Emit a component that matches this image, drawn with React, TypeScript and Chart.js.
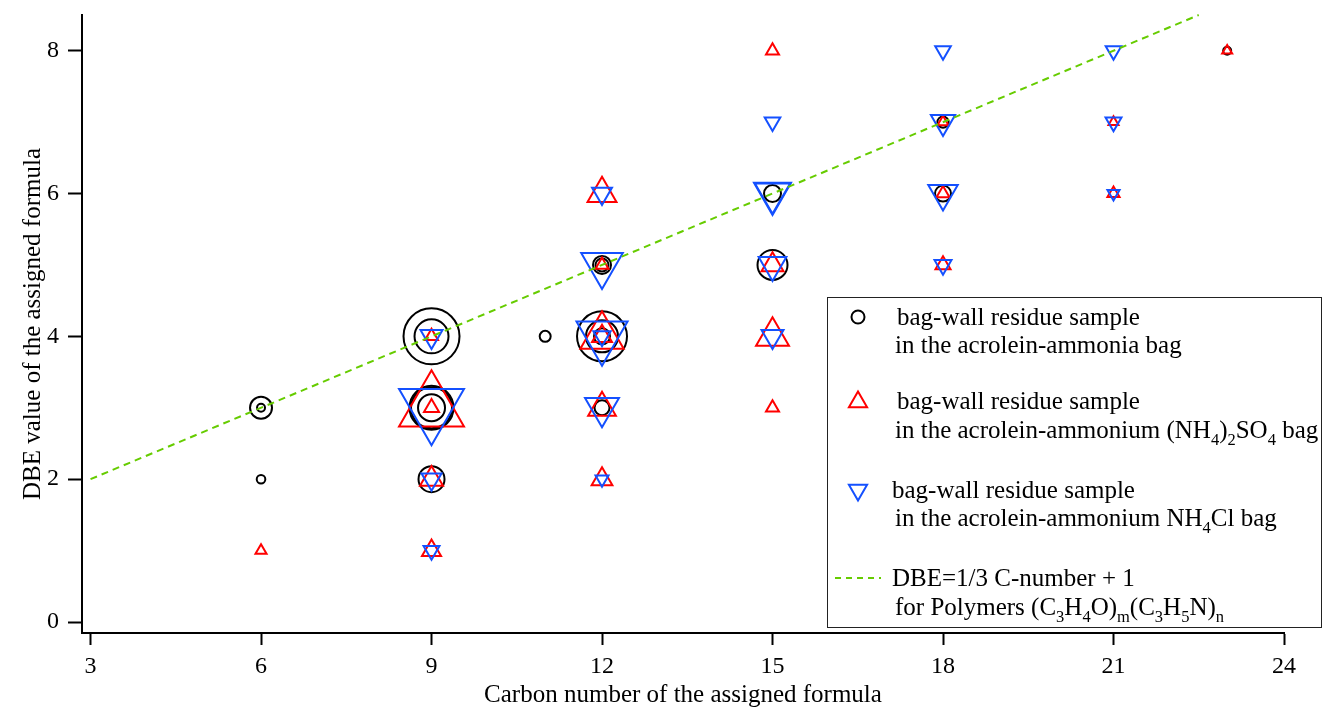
import React, { useEffect, useRef } from 'react';
import { Chart, registerables } from 'chart.js';

Chart.register(...registerables);

const FONT = '"Liberation Serif", "Times New Roman", serif';

const xTicks = [3, 6, 9, 12, 15, 18, 21, 24];
const yTicks = [0, 2, 4, 6, 8];

// bag-wall residue sample in the acrolein-ammonia bag (black circles)
const ammoniaC = [6, 6, 6, 9, 9, 9, 9, 9, 9, 11, 12, 12, 12, 12, 12, 12, 15, 15, 18, 18, 23];
const ammoniaDBE = [3, 3, 2, 4, 4, 3, 3, 3, 2, 4, 5, 5, 4, 4, 4, 3, 6, 5, 7, 6, 8];
const ammoniaSize = [11, 4, 4.3, 28, 17, 22, 20.5, 13.5, 13, 5.5, 9, 6.5, 25, 16, 8, 7.5, 8.5, 15, 5.6, 8, 4];

// bag-wall residue sample in the acrolein-ammonium (NH4)2SO4 bag (red up triangles)
const sulfateC = [6, 9, 9, 9, 9, 9, 12, 12, 12, 12, 12, 12, 15, 15, 15, 15, 18, 18, 18, 21, 21, 23];
const sulfateDBE = [1, 4, 3, 3, 2, 1, 6, 5, 4, 4, 3, 2, 8, 5, 4, 3, 7, 6, 5, 7, 6, 8];
const sulfateSize = [6.4, 7.5, 37.5, 8.7, 13.3, 11, 16.7, 7.5, 25, 11.5, 16, 12, 7.5, 12.7, 19, 7.5, 6.4, 7.5, 8.7, 5.8, 7, 5.8];

// bag-wall residue sample in the acrolein-ammonium NH4Cl bag (blue down triangles)
const chlorideC = [9, 9, 9, 9, 12, 12, 12, 12, 12, 12, 15, 15, 15, 15, 15, 18, 18, 18, 18, 21, 21, 21];
const chlorideDBE = [4, 3, 2, 1, 6, 5, 4, 4, 3, 2, 7, 6, 6, 5, 4, 8, 7, 6, 5, 8, 7, 6];
const chlorideSize = [12.7, 37.5, 11.5, 9.2, 11.5, 24, 29.5, 10, 19.6, 7.5, 9, 21.4, 20.3, 16, 12.7, 9, 14, 17, 9.8, 9, 9.2, 7];

// DBE = 1/3 C-number + 1
const lineC = [3, 22.5];
const lineDBE = [2, 8.5];

const BLACK = '#000000';
const RED = '#ff0000';
const BLUE = '#1450ff';
const GREEN = '#66cc00';

const zip = (xs: number[], ys: number[]) => xs.map((x, i) => ({ x, y: ys[i] }));

type Part = [string, boolean];

function drawRich(ctx: CanvasRenderingContext2D, parts: Part[], x: number, y: number, size: number) {
  let cx = x;
  for (const [t, sub] of parts) {
    const s = sub ? size * 0.66 : size;
    ctx.font = `${s}px ${FONT}`;
    ctx.fillText(t, cx, sub ? y + size * 0.26 : y);
    cx += ctx.measureText(t).width;
  }
}

function tri(ctx: CanvasRenderingContext2D, x: number, y: number, r: number, down: boolean) {
  const s = down ? -1 : 1;
  ctx.beginPath();
  ctx.moveTo(x, y - s * r);
  ctx.lineTo(x + r * Math.sin((2 * Math.PI) / 3), y + s * r * 0.5);
  ctx.lineTo(x - r * Math.sin((2 * Math.PI) / 3), y + s * r * 0.5);
  ctx.closePath();
  ctx.stroke();
}

const decorPlugin = {
  id: 'decor',
  afterDraw(chart: any) {
    const ctx: CanvasRenderingContext2D = chart.ctx;
    const area = chart.chartArea;
    ctx.save();
    ctx.fillStyle = '#000';
    ctx.textBaseline = 'alphabetic';

    // axis titles
    ctx.font = `25px ${FONT}`;
    ctx.textAlign = 'center';
    ctx.fillText('Carbon number of the assigned formula', (area.left + area.right) / 2, 702);
    ctx.save();
    ctx.translate(40, (area.top + area.bottom) / 2);
    ctx.rotate(-Math.PI / 2);
    ctx.font = `25px ${FONT}`;
    ctx.fillText('DBE value of the assigned formula', 0, 0);
    ctx.restore();

    // legend box
    ctx.textAlign = 'left';
    ctx.strokeStyle = '#222';
    ctx.lineWidth = 1;
    ctx.strokeRect(827.5, 297.5, 494, 330);

    // legend symbols
    ctx.lineWidth = 2;
    ctx.strokeStyle = BLACK;
    ctx.beginPath();
    ctx.arc(858, 317, 6.5, 0, Math.PI * 2);
    ctx.stroke();
    ctx.strokeStyle = RED;
    tri(ctx, 858, 402, 10.5, false);
    ctx.strokeStyle = BLUE;
    tri(ctx, 858, 490, 10.5, true);
    ctx.strokeStyle = GREEN;
    ctx.setLineDash([6, 5]);
    ctx.beginPath();
    ctx.moveTo(835, 578);
    ctx.lineTo(881, 578);
    ctx.stroke();
    ctx.setLineDash([]);

    // legend texts
    const fs = 25;
    ctx.fillStyle = '#000';
    drawRich(ctx, [['bag-wall residue sample', false]], 897, 325, fs);
    drawRich(ctx, [['in the acrolein-ammonia bag', false]], 895, 353, fs);
    drawRich(ctx, [['bag-wall residue sample', false]], 897, 409, fs);
    drawRich(
      ctx,
      [
        ['in the acrolein-ammonium (NH', false],
        ['4', true],
        [')', false],
        ['2', true],
        ['SO', false],
        ['4', true],
        [' bag', false],
      ],
      895,
      438,
      fs
    );
    drawRich(ctx, [['bag-wall residue sample', false]], 892, 498, fs);
    drawRich(
      ctx,
      [
        ['in the acrolein-ammonium NH', false],
        ['4', true],
        ['Cl bag', false],
      ],
      895,
      526,
      fs
    );
    drawRich(ctx, [['DBE=1/3 C-number + 1', false]], 892, 586, fs);
    drawRich(
      ctx,
      [
        ['for Polymers (C', false],
        ['3', true],
        ['H', false],
        ['4', true],
        ['O)', false],
        ['m', true],
        ['(C', false],
        ['3', true],
        ['H', false],
        ['5', true],
        ['N)', false],
        ['n', true],
      ],
      895,
      615,
      fs
    );
    ctx.restore();
  },
};

const zeroPad = (s: any) => {
  s.paddingTop = 0;
  s.paddingBottom = 0;
  s.paddingLeft = 0;
  s.paddingRight = 0;
};

export default function App() {
  const ref = useRef<HTMLCanvasElement | null>(null);

  useEffect(() => {
    if (!ref.current) return;
    const common = {
      showLine: false,
      pointBorderWidth: 2,
      pointBackgroundColor: 'rgba(0,0,0,0)',
      backgroundColor: 'rgba(0,0,0,0)',
      pointHoverRadius: 0,
      clip: false as const,
    };
    const chart = new Chart(ref.current, {
      type: 'scatter',
      data: {
        datasets: [
          {
            label: 'DBE=1/3 C-number + 1',
            data: zip(lineC, lineDBE),
            showLine: true,
            borderColor: GREEN,
            borderWidth: 2,
            borderDash: [7, 5],
            pointRadius: 0,
            order: 0,
            clip: false as const,
          },
          {
            ...common,
            label: 'NH4Cl bag',
            data: zip(chlorideC, chlorideDBE),
            pointStyle: 'triangle',
            pointRotation: 180,
            pointRadius: chlorideSize,
            borderColor: BLUE,
            pointBorderColor: BLUE,
            order: 1,
          },
          {
            ...common,
            label: '(NH4)2SO4 bag',
            data: zip(sulfateC, sulfateDBE),
            pointStyle: 'triangle',
            pointRadius: sulfateSize,
            borderColor: RED,
            pointBorderColor: RED,
            order: 2,
          },
          {
            ...common,
            label: 'ammonia bag',
            data: zip(ammoniaC, ammoniaDBE),
            pointStyle: 'circle',
            pointRadius: ammoniaSize,
            borderColor: BLACK,
            pointBorderColor: BLACK,
            order: 3,
          },
        ] as any,
      },
      options: {
        responsive: false,
        devicePixelRatio: 1,
        animation: false,
        events: [],
        layout: { autoPadding: false, padding: { left: 0, right: 39, top: 15, bottom: 0 } },
        plugins: { legend: { display: false }, tooltip: { enabled: false } },
        scales: {
          x: {
            type: 'linear',
            min: 2.85,
            max: 24,
            afterBuildTicks: (s: any) => {
              s.ticks = xTicks.map((v) => ({ value: v }));
            },
            afterFit: (s: any) => {
              s.height = 74;
              zeroPad(s);
            },
            grid: {
              drawOnChartArea: false,
              drawTicks: true,
              tickLength: 12,
              tickWidth: 2,
              tickColor: '#000',
            },
            border: { display: true, color: '#000', width: 2 },
            ticks: {
              color: '#000',
              font: { family: FONT, size: 24 },
              padding: 7,
              maxRotation: 0,
              autoSkip: false,
            },
          },
          y: {
            type: 'linear',
            min: -0.154,
            max: 8.5,
            afterBuildTicks: (s: any) => {
              s.ticks = yTicks.map((v) => ({ value: v }));
            },
            afterFit: (s: any) => {
              s.width = 82;
              zeroPad(s);
            },
            grid: {
              drawOnChartArea: false,
              drawTicks: true,
              tickLength: 14,
              tickWidth: 2,
              tickColor: '#000',
            },
            border: { display: true, color: '#000', width: 2 },
            ticks: {
              color: '#000',
              font: { family: FONT, size: 24 },
              padding: 9,
              autoSkip: false,
            },
          },
        },
      } as any,
      plugins: [decorPlugin],
    });
    return () => chart.destroy();
  }, []);

  return (
    <div style={{ position: 'fixed', left: 0, top: 0, width: 1323, height: 707, background: '#fff' }}>
      <canvas ref={ref} width={1323} height={707} style={{ display: 'block', width: 1323, height: 707 }} />
    </div>
  );
}
